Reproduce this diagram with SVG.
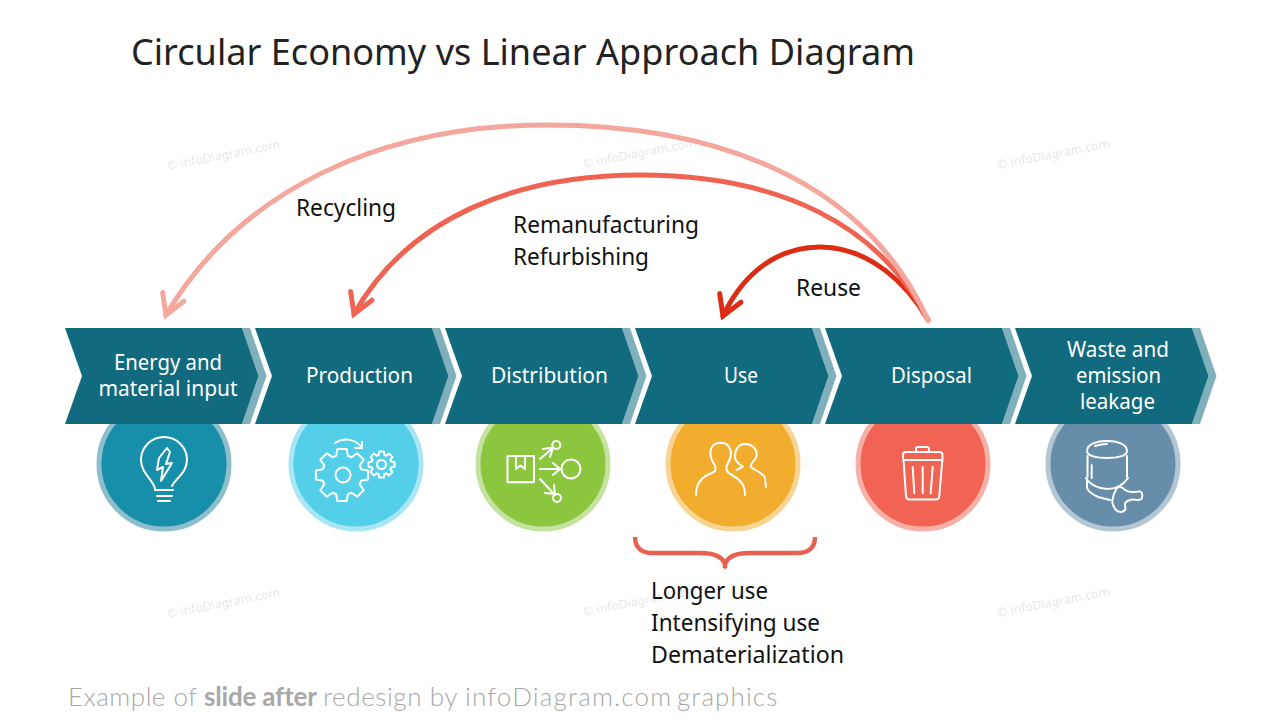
<svg xmlns="http://www.w3.org/2000/svg" xmlns:xlink="http://www.w3.org/1999/xlink" width="1280" height="720" viewBox="0 0 1280 720">
<style>
text{font-family:"Noto Sans","Open Sans","Liberation Sans",sans-serif}
.title{font-size:36px;fill:#222}
.lab{font-size:24px;fill:#111}
.chev{font-size:21px;fill:#fff;text-anchor:middle}
.wm{font-size:12px;fill:#e8e8e8;letter-spacing:.2px}
.foot{font-family:Lato,"Liberation Sans",sans-serif;font-size:26px;fill:#a8a8a8;font-weight:300}
.dark{fill:#126A7E}.band{fill:#7FB0BC}
.ic{fill:none;stroke:#fff;stroke-width:2;stroke-linecap:round;stroke-linejoin:round}
.arc{fill:none;stroke-width:5;stroke-linecap:round}
</style>
<defs>
<g id="chevron"><path class="band" d="M242,328H250L266.500,376L250,424H242L258.500,376Z"/><path class="dark" d="M65,328H242L258.500,376L242,424H65L82,376Z"/></g>
<path id="tooth" d="M18.5,-7.65A20,20 0 0 1 19.1,-5.85L26.1,-4.6L26.1,4.6L19.1,5.85A20,20 0 0 1 18.5,7.65"/>
<g id="gear"><use xlink:href="#tooth"/><use xlink:href="#tooth" transform="rotate(45)"/><use xlink:href="#tooth" transform="rotate(90)"/><use xlink:href="#tooth" transform="rotate(135)"/><use xlink:href="#tooth" transform="rotate(180)"/><use xlink:href="#tooth" transform="rotate(225)"/><use xlink:href="#tooth" transform="rotate(270)"/><use xlink:href="#tooth" transform="rotate(315)"/></g>
<marker id="h1" markerUnits="userSpaceOnUse" markerWidth="40" markerHeight="40" refX="20" refY="20" orient="112" overflow="visible"><path d="M0.500,8.500L20,20L0.500,31.500" fill="none" stroke="#F4A79D" stroke-width="5" stroke-linecap="round" stroke-linejoin="miter"/></marker>
<marker id="h2" markerUnits="userSpaceOnUse" markerWidth="40" markerHeight="40" refX="20" refY="20" orient="112" overflow="visible"><path d="M0.500,8.500L20,20L0.500,31.500" fill="none" stroke="#EE6352" stroke-width="5" stroke-linecap="round" stroke-linejoin="miter"/></marker>
<marker id="h3" markerUnits="userSpaceOnUse" markerWidth="40" markerHeight="40" refX="20" refY="20" orient="112" overflow="visible"><path d="M0.500,8.500L20,20L0.500,31.500" fill="none" stroke="#DD2C14" stroke-width="5" stroke-linecap="round" stroke-linejoin="miter"/></marker>
</defs>
<rect width="1280" height="720" fill="#fff"/>
<g id="watermarks">
<text class="wm" transform="translate(168,170) rotate(-11)">© infoDiagram.com</text>
<text class="wm" transform="translate(584,168) rotate(-11)">© infoDiagram.com</text>
<text class="wm" transform="translate(998,169) rotate(-11)">© infoDiagram.com</text>
<text class="wm" transform="translate(168,618) rotate(-11)">© infoDiagram.com</text>
<text class="wm" transform="translate(584,616) rotate(-11)">© infoDiagram.com</text>
<text class="wm" transform="translate(998,617) rotate(-11)">© infoDiagram.com</text>
</g>
<text id="title" class="title" x="131" y="65" textLength="784" lengthAdjust="spacingAndGlyphs">Circular Economy vs Linear Approach Diagram</text>
<g id="connectors">
<path class="arc" stroke="#DD2C14" marker-end="url(#h3)" d="M928,320C908,285 870,247 820,247C780,247 745,270 723,316"/>
<path class="arc" stroke="#EE6352" marker-end="url(#h2)" d="M928,320C880,225 780,175 640,175C520,175 410,215 354,314"/>
<path class="arc" stroke="#F4A79D" marker-end="url(#h1)" d="M928,320C860,170 700,125 548,125C380,125 240,190 166,315"/>
</g>
<g id="node-energy">
<circle cx="164" cy="464" r="65" fill="#178FAB" stroke="#8CBFCB" stroke-width="5"/>
<use xlink:href="#chevron"/>
<path class="ic" d="M155,489C154,480 141,474 141,460A23,23 0 1 1 187,460C187,473 175,479 172,486"/>
<path class="ic" d="M155,490H173M157,496H172M158,501H170"/>
<path class="ic" d="M167,448L159,458L157,470L163,467L161,481L172,463L166,464L170,452Z"/>
<text class="chev" x="168" y="370" textLength="108" lengthAdjust="spacingAndGlyphs">Energy and</text>
<text class="chev" x="168" y="396" textLength="139" lengthAdjust="spacingAndGlyphs">material input</text>
</g>
<g id="node-production">
<circle cx="356" cy="464" r="65" fill="#54CFE9" stroke="#A9E6F3" stroke-width="5"/>
<use xlink:href="#chevron" x="190"/>
<use class="ic" xlink:href="#gear" transform="translate(342,475)"/>
<circle class="ic" cx="343" cy="475" r="7.5"/>
<use class="ic" style="stroke-width:4" xlink:href="#gear" transform="translate(381.500,464.500) scale(.5)"/>
<circle class="ic" cx="381.500" cy="464.500" r="4.500"/>
<path class="ic" d="M335,443C344,437 356,439 362,448M362,442V448H355"/>
<text class="chev" x="359.500" y="383" textLength="107" lengthAdjust="spacingAndGlyphs">Production</text>
</g>
<g id="node-distribution">
<circle cx="543" cy="464" r="65" fill="#8BC63E" stroke="#C4E2A0" stroke-width="5"/>
<use xlink:href="#chevron" x="380"/>
<path class="ic" d="M507.500,456H534V482.300H507.500ZM516,456V469L520.500,465.500L525,469V456"/>
<path class="ic" d="M540,469H561.500M553,463L560,469L553,475"/>
<circle class="ic" cx="571" cy="469" r="9.500"/>
<path class="ic" d="M540,459L553.500,447.500M543,449L553,447.500L550,457"/>
<circle class="ic" cx="556.300" cy="445" r="4"/>
<path class="ic" d="M540,479L555,495M545,493L555,494L554,485"/>
<circle class="ic" cx="557" cy="498" r="4"/>
<text class="chev" x="549.500" y="383" textLength="117" lengthAdjust="spacingAndGlyphs">Distribution</text>
</g>
<g id="node-use">
<circle cx="733" cy="464" r="65" fill="#F2AC2E" stroke="#F8D595" stroke-width="5"/>
<use xlink:href="#chevron" x="570"/>
<path class="ic" d="M696,495C696,482 703,476 712,473C717,471 716,467 714,464C708,455 709,443 720.700,442.700C732,443 733,455 728,463C725,468 726,472 731.700,475C741,480 745,485 745,495"/>
<path class="ic" d="M736.700,470L743,466.700C737,463 735,460 735,456.700C735,449 739,444 745,444C752,444 757,449 756.700,455C756.500,460 750,463 750.700,466.700C753,470 763,472 765,478L766,487"/>
<text class="chev" x="741" y="383" textLength="34" lengthAdjust="spacingAndGlyphs">Use</text>
</g>
<g id="node-disposal">
<circle cx="923" cy="464" r="65" fill="#F16352" stroke="#F7B0A7" stroke-width="5"/>
<use xlink:href="#chevron" x="760"/>
<path class="ic" d="M903,458V454.500Q903,452 906,452H939.500Q942.500,452 942.500,454.500V459M903.500,460H942.500M916,451.500V448.500Q916,447 918,447H927Q929,447 929,448.500V451.500"/>
<path class="ic" d="M903.500,460L906,496Q906.300,499.500 909,499.500H936Q939,499.500 939.300,496L942.300,460"/>
<path class="ic" d="M912.700,467L914.300,493.300M922.700,467V493.300M932.700,467L930.700,493.300"/>
<text class="chev" x="931.500" y="383" textLength="81" lengthAdjust="spacingAndGlyphs">Disposal</text>
</g>
<g id="node-waste">
<circle cx="1113" cy="464" r="65" fill="#668EAA" stroke="#B2C6D4" stroke-width="5"/>
<use xlink:href="#chevron" x="950"/>
<path class="ic" d="M1087,451C1087,444 1097,441 1107,441C1117,441 1127,444 1127,451C1127,456 1117,458 1107,458C1097,458 1087,456 1087,451Z"/>
<path class="ic" d="M1095,446Q1101,444 1107,444M1087.500,456V477M1127,456V477M1091.700,465V478"/>
<path class="ic" d="M1086,478C1090,485 1100,489 1107,489C1114,489 1122,487 1128,478"/>
<path class="ic" d="M1087,481V488C1089,493 1094,495 1098,497L1110,500"/>
<path class="ic" d="M1115,492C1116,488 1118,487 1120,487C1123,487 1124,489 1125,490C1128,492 1130,492 1133,492C1138,492 1142,490 1142,494C1143,499 1141,500 1138,500C1135,500 1132,499 1130,500C1127,501 1125,502 1125,504C1125,507 1126,509 1125,510C1122,513 1118,512 1116,510C1114,508 1114,506 1113,505C1112,502 1112,500 1113,498C1113,495 1114,494 1115,492Z"/>
<text class="chev" x="1118" y="356.500" textLength="102" lengthAdjust="spacingAndGlyphs">Waste and</text>
<text class="chev" x="1118.500" y="382.500" textLength="85" lengthAdjust="spacingAndGlyphs">emission</text>
<text class="chev" x="1117.500" y="408.500" textLength="75" lengthAdjust="spacingAndGlyphs">leakage</text>
</g>
<path id="brace" fill="none" stroke="#E8604F" stroke-width="4.500" d="M635,537C635,548 642,553 652,553H700C714,553 722,556 725,564C728,556 736,553 750,553H798C808,553 815,548 815,537M725,560V568"/>
<g id="labels">
<text class="lab" x="296" y="216" textLength="100" lengthAdjust="spacingAndGlyphs">Recycling</text>
<text class="lab" x="513" y="233" textLength="186" lengthAdjust="spacingAndGlyphs">Remanufacturing</text>
<text class="lab" x="513" y="265" textLength="136" lengthAdjust="spacingAndGlyphs">Refurbishing</text>
<text class="lab" x="796" y="296" textLength="65" lengthAdjust="spacingAndGlyphs">Reuse</text>
<text class="lab" x="651" y="599" textLength="117" lengthAdjust="spacingAndGlyphs">Longer use</text>
<text class="lab" x="651" y="631" textLength="169" lengthAdjust="spacingAndGlyphs">Intensifying use</text>
<text class="lab" x="651" y="663" textLength="193" lengthAdjust="spacingAndGlyphs">Dematerialization</text>
</g>
<text id="footer" class="foot" y="706"><tspan x="68" letter-spacing=".5">Example of </tspan><tspan x="204" font-weight="700" letter-spacing="-.2">slide after </tspan><tspan x="323" letter-spacing=".6">redesign by </tspan><tspan x="465" letter-spacing="1.2">infoDiagram.com </tspan><tspan x="677" letter-spacing="1.1">graphics</tspan></text>
</svg>
